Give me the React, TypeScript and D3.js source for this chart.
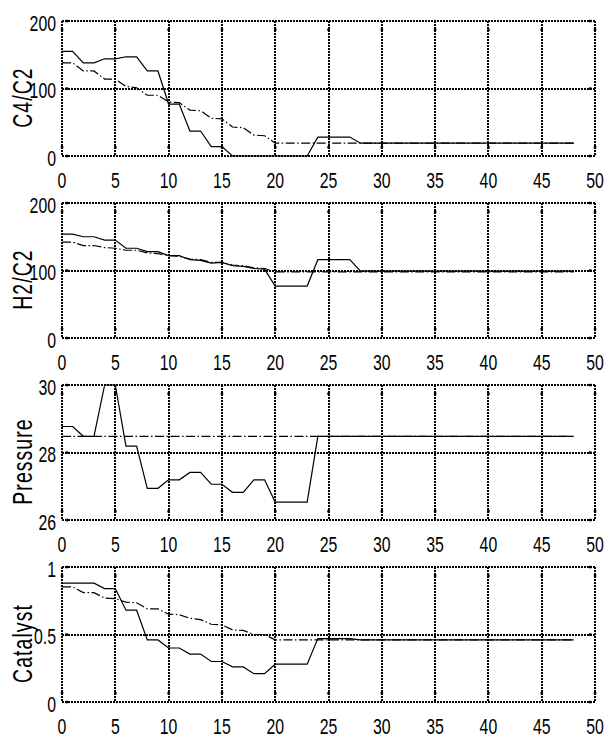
import React from "react";
import * as d3 from "d3";

// sample times (hours)
const steps = [0, 1, 2, 3, 4, 5, 6, 7, 8, 9, 10, 11, 12, 13, 14, 15, 16, 17, 18, 19, 20, 21, 22, 23, 24,
  25, 26, 27, 28, 29, 30, 31, 32, 33, 34, 35, 36, 37, 38, 39, 40, 41, 42, 43, 44, 45, 46, 47, 48];

const xTicks = [0, 5, 10, 15, 20, 25, 30, 35, 40, 45, 50];

const c4c2Actual = [155, 155, 138, 138, 144, 144, 147, 147, 126, 126, 77, 77, 37, 37, 14, 14, 0, 0, 0, 0,
  0, 0, 0, 0, 28, 28, 28, 28, 19, 19, 19, 19, 19, 19, 19, 19, 19, 19, 19, 19, 19, 19, 19, 19, 19, 19, 19, 19, 19];
const c4c2Target = [138, 138, 126, 126, 114, 114, 103, 101, 90, 90, 80, 79, 68, 67, 56, 55, 43, 42, 31, 30,
  19, 19, 19, 19, 19, 19, 19, 19, 19, 19, 19, 19, 19, 19, 19, 19, 19, 19, 19, 19, 19, 19, 19, 19, 19, 19, 19, 19, 19];

const h2c2Actual = [154, 154, 150, 150, 145, 145, 133, 133, 128, 128, 122, 122, 116, 115, 111, 112, 107, 106, 103, 102,
  77, 77, 77, 77, 116, 116, 116, 116, 99, 99, 99, 99, 99, 99, 99, 99, 99, 99, 99, 99, 99, 99, 99, 99, 99, 99, 99, 99, 99];
const h2c2Target = [142, 142, 137, 137, 134, 133, 130, 130, 126, 125, 122, 121, 117, 116, 112, 112, 108, 107, 104, 103,
  98, 98, 98, 98, 98, 98, 98, 98, 98, 98, 98, 98, 98, 98, 98, 98, 98, 98, 98, 98, 98, 98, 98, 98, 98, 98, 98, 98, 98];

const pressureActual = [28.77, 28.77, 28.48, 28.48, 30, 30, 28.19, 28.19, 26.94, 26.94, 27.19, 27.19, 27.41, 27.41,
  27.06, 27.06, 26.82, 26.82, 27.19, 27.19, 26.53, 26.53, 26.53, 26.53, 28.48, 28.48, 28.48, 28.48, 28.48, 28.48,
  28.48, 28.48, 28.48, 28.48, 28.48, 28.48, 28.48, 28.48, 28.48, 28.48, 28.48, 28.48, 28.48, 28.48, 28.48, 28.48,
  28.48, 28.48, 28.48];
const pressureTarget = [28.48, 28.48, 28.48, 28.48, 28.48, 28.48, 28.48, 28.48, 28.48, 28.48, 28.48, 28.48, 28.48,
  28.48, 28.48, 28.48, 28.48, 28.48, 28.48, 28.48, 28.48, 28.48, 28.48, 28.48, 28.48, 28.48, 28.48, 28.48, 28.48,
  28.48, 28.48, 28.48, 28.48, 28.48, 28.48, 28.48, 28.48, 28.48, 28.48, 28.48, 28.48, 28.48, 28.48, 28.48, 28.48,
  28.48, 28.48, 28.48, 28.48];

const catalystActual = [0.88, 0.88, 0.88, 0.88, 0.84, 0.84, 0.68, 0.68, 0.46, 0.46, 0.4, 0.4, 0.355, 0.355, 0.3, 0.3,
  0.26, 0.26, 0.21, 0.21, 0.28, 0.28, 0.28, 0.28, 0.47, 0.47, 0.47, 0.47, 0.46, 0.46, 0.46, 0.46, 0.46, 0.46, 0.46,
  0.46, 0.46, 0.46, 0.46, 0.46, 0.46, 0.46, 0.46, 0.46, 0.46, 0.46, 0.46, 0.46, 0.46];
const catalystTarget = [0.853, 0.853, 0.81, 0.81, 0.77, 0.765, 0.74, 0.735, 0.69, 0.69, 0.65, 0.647, 0.62, 0.61,
  0.576, 0.571, 0.534, 0.53, 0.5, 0.5, 0.46, 0.46, 0.46, 0.46, 0.46, 0.46, 0.46, 0.46, 0.46, 0.46, 0.46, 0.46, 0.46,
  0.46, 0.46, 0.46, 0.46, 0.46, 0.46, 0.46, 0.46, 0.46, 0.46, 0.46, 0.46, 0.46, 0.46, 0.46, 0.46];

const panelLabels = ["C4/C2", "H2/C2", "Pressure", "Catalyst"];
const yDomains = [[0, 200], [0, 200], [26, 30], [0, 1]];
const yTicks = [[0, 100, 200], [0, 100, 200], [26, 28, 30], [0, 0.5, 1]];
const yTickLabels = [["0", "100", "200"], ["0", "100", "200"], ["26", "28", "30"], ["0", "0.5", "1"]];
const actualSeries = [c4c2Actual, h2c2Actual, pressureActual, catalystActual];
const targetSeries = [c4c2Target, h2c2Target, pressureTarget, catalystTarget];

const font = "'Liberation Sans', Arial, sans-serif";
const dotted = "2,1";

function Panel({ i }: { i: number }) {
  const top = Math.round(21 + i * 182);
  const bottom = top + 135;
  const x = d3.scaleLinear().domain([0, 50]).range([62, 595]);
  const y = d3.scaleLinear().domain(yDomains[i]).range([bottom, top]);
  const line = d3
    .line<number>()
    .x((d, k) => x(steps[k]))
    .y((d) => y(d));

  return (
    <g>
      {/* grid, also forms the frame */}
      {xTicks.map((t) => (
        <line key={"gx" + t} x1={Math.round(x(t))} x2={Math.round(x(t))} y1={top} y2={bottom}
          stroke="#000" strokeWidth={1.6} strokeDasharray={dotted} shapeRendering="crispEdges" />
      ))}
      {yTicks[i].map((t) => (
        <line key={"gy" + t} x1={x(0)} x2={x(50)} y1={Math.round(y(t))} y2={Math.round(y(t))}
          stroke="#000" strokeWidth={1.6} strokeDasharray={dotted} shapeRendering="crispEdges" />
      ))}
      {/* inward tick ends */}
      {xTicks.map((t) => (
        <g key={"tx" + t}>
          <rect x={x(t) - 1.2} y={bottom - 10} width={2.5} height={2.5} fill="#000" />
          <rect x={x(t) - 1.2} y={top + 7.5} width={2.5} height={2.5} fill="#000" />
        </g>
      ))}
      {yTicks[i].map((t) => (
        <g key={"ty" + t}>
          <rect x={x(0) + 3.5} y={y(t) - 1.2} width={2.5} height={2.5} fill="#000" />
          <rect x={x(50) - 6} y={y(t) - 1.2} width={2.5} height={2.5} fill="#000" />
        </g>
      ))}
      {/* series */}
      <path d={line(targetSeries[i]) || ""} fill="none" stroke="#000" strokeWidth={1.2}
        strokeDasharray="9,2.5,1.5,2.5" />
      <path d={line(actualSeries[i]) || ""} fill="none" stroke="#000" strokeWidth={1.2} />
      {/* tick labels */}
      {xTicks.map((t) => (
        <text key={"lx" + t} transform={`translate(${x(t)},${bottom + 32}) scale(0.72,1)`}
          textAnchor="middle" fontSize={22} fontFamily={font} fill="#000">{t}</text>
      ))}
      {yTicks[i].map((t, k) => (
        <text key={"ly" + t} transform={`translate(56,${y(t) + 9.5}) scale(0.72,1)`}
          textAnchor="end" fontSize={22} fontFamily={font} fill="#000">{yTickLabels[i][k]}</text>
      ))}
      <text transform={`translate(32,${(top + bottom) / 2 + 9}) rotate(-90) scale(0.72,1)`}
        textAnchor="middle" fontSize={27} letterSpacing={1.5} fontFamily={font} fill="#000">
        {panelLabels[i]}
      </text>
    </g>
  );
}

export default function App() {
  return (
    <svg width={604} height={738} style={{ position: "absolute", left: 0, top: 0, background: "#fff" }}>
      <rect width={604} height={738} fill="#fff" />
      {panelLabels.map((p, i) => (
        <Panel key={p} i={i} />
      ))}
    </svg>
  );
}
